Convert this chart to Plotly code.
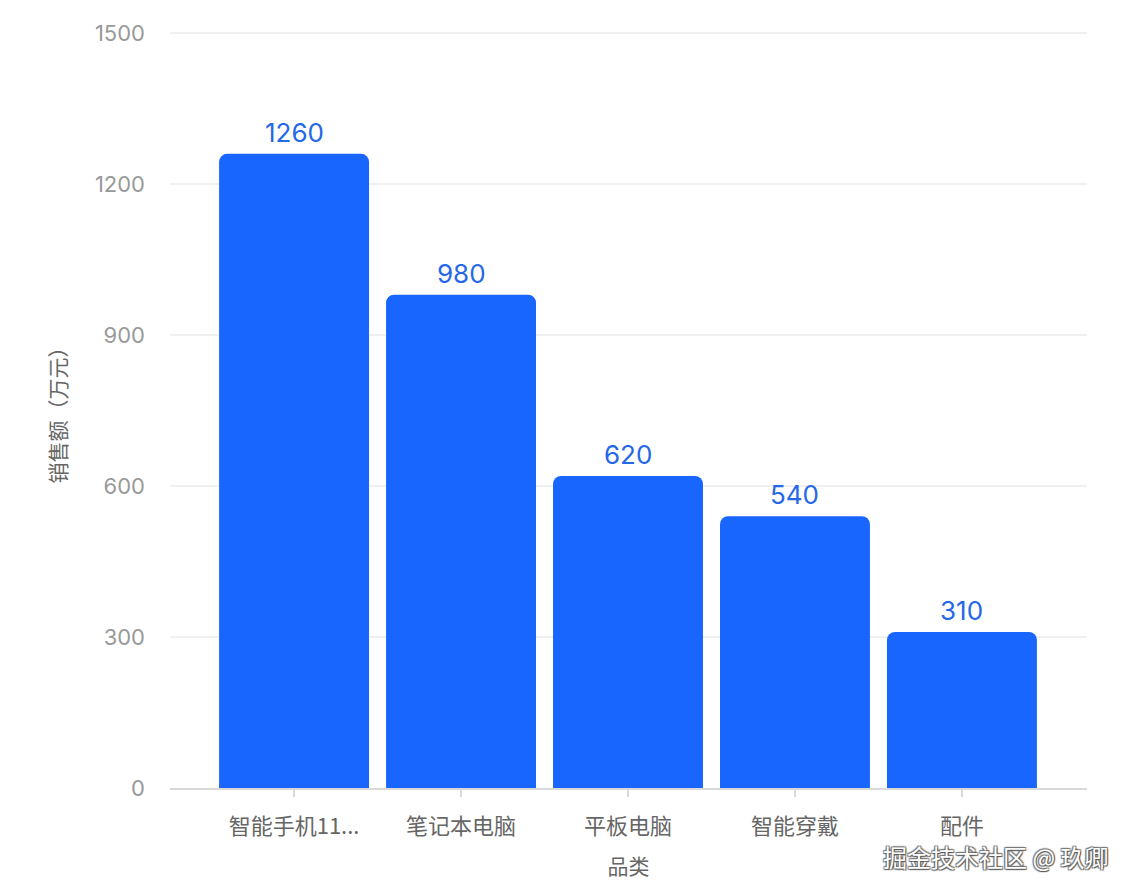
import plotly.graph_objects as go

categories = ["智能手机11...", "笔记本电脑", "平板电脑", "智能穿戴", "配件"]
sales = [1260, 980, 620, 540, 310]
y_ticks = [0, 300, 600, 900, 1200, 1500]

FONT = "Noto Sans CJK SC, PingFang SC, sans-serif"
NUMFONT = "Inter, Noto Sans CJK SC, sans-serif"
BAR = "#1966FF"
LABEL = "#2468E8"

fig = go.Figure()
fig.add_trace(go.Bar(
    x=list(range(len(categories))),
    y=sales,
    marker=dict(color=BAR, line=dict(width=0), cornerradius=8),
    width=0.898,
    hoverinfo="skip",
))

for i, v in enumerate(sales):
    fig.add_annotation(x=i, y=v, text=str(v), showarrow=False, yanchor="bottom",
                       yshift=4, font=dict(family=NUMFONT, size=26, color=LABEL))

fig.add_annotation(xref="paper", yref="paper", x=1.025, y=-0.09, xanchor="right", yanchor="middle",
                   text="掘金技术社区 @ 玖卿", showarrow=False,
                   font=dict(family=FONT, size=24, color="#ffffff",
                             shadow="1px 1px 1px #555, -1px -1px 1px #777, 1px -1px 1px #777, -1px 1px 1px #777"))

fig.update_layout(
    width=1128, height=882,
    margin=dict(l=162, r=49, t=20, b=102),
    plot_bgcolor="white", paper_bgcolor="white",
    showlegend=False,
    font=dict(family=FONT, color="#666"),
)
fig.update_xaxes(
    range=[-0.743, 4.749],
    tickmode="array", tickvals=list(range(len(categories))), ticktext=categories,
    showgrid=False, showline=True, linecolor="#d9d9d9", linewidth=1.5,
    ticks="outside", ticklen=7, tickcolor="#d9d9d9", tickwidth=1.5,
    tickfont=dict(family=FONT, size=22, color="#666"),
    ticklabelstandoff=11,
    title=dict(text="品类", font=dict(family=FONT, size=21, color="#666"), standoff=20),
    zeroline=False, fixedrange=True,
)
fig.update_yaxes(
    range=[0, 1502], tickmode="array", tickvals=y_ticks,
    showgrid=True, gridcolor="#f0f0f0", gridwidth=1.5,
    showline=False, zeroline=False, ticks="",
    tickfont=dict(family=NUMFONT, size=22, color="#999"),
    ticklabelstandoff=24,
    title=dict(text="销售额（万元）", font=dict(family=FONT, size=21, color="#666"), standoff=22),
)

fig.write_html("out.html")
